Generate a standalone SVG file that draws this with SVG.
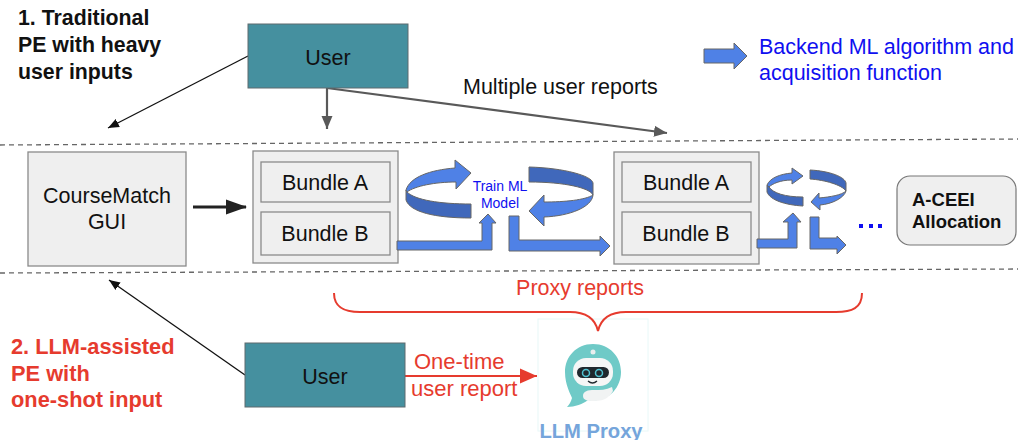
<svg xmlns="http://www.w3.org/2000/svg" width="1018" height="440" viewBox="0 0 1018 440">
<defs>
<marker id="gh" markerWidth="14" markerHeight="12" refX="13" refY="6" orient="auto" markerUnits="userSpaceOnUse"><path d="M0,0.5L13,6L0,11.5z" fill="#595959"/></marker>
<marker id="bh" markerWidth="12" markerHeight="10" refX="11" refY="5" orient="auto" markerUnits="userSpaceOnUse"><path d="M0,0.5L11,5L0,9.5z" fill="#111"/></marker>
<marker id="kh" markerWidth="22" markerHeight="16" refX="20" refY="8" orient="auto" markerUnits="userSpaceOnUse"><path d="M0,0.5L21,8L0,15.5z" fill="#222"/></marker>
<marker id="rh" markerWidth="18" markerHeight="16" refX="17" refY="8" orient="auto" markerUnits="userSpaceOnUse"><path d="M0,0.5L17,8L0,15.5z" fill="#e63b2e"/></marker>
</defs>
<style>
text{font-family:"Liberation Sans",Arial,sans-serif}
.lbl{font-size:21.5px;fill:#111}
.mid{text-anchor:middle}
.head{font-size:21.3px;font-weight:700}
.user{fill:#45909f;stroke:#5f6b6e;stroke-width:1}
.box{fill:#efefef;stroke:#8a8a8a;stroke-width:1.3}
.arr{fill:#4f81e6;stroke:#666;stroke-width:1}
.dark{fill:#4068bb;stroke:#666;stroke-width:1}
.dash{fill:none;stroke:#666;stroke-width:1.3;stroke-dasharray:5 4}
.gl{fill:none;stroke:#595959;stroke-width:2.2}
</style>
<g id="dividers">
<path class="dash" d="M0,145L1018,139"/>
<path class="dash" d="M0,273L1018,269"/>
</g>
<g id="connectors">
<path d="M248,56L108,128" fill="none" stroke="#111" stroke-width="1.3" marker-end="url(#bh)"/>
<path d="M327,88V129" class="gl" marker-end="url(#gh)"/>
<path d="M327,88L667,133" class="gl" marker-end="url(#gh)"/>
<path d="M193,207H246" fill="none" stroke="#222" stroke-width="3" marker-end="url(#kh)"/>
<path d="M245,375L109,280" fill="none" stroke="#111" stroke-width="1.3" marker-end="url(#bh)"/>
<path d="M405,376H537" fill="none" stroke="#e63b2e" stroke-width="2.2" marker-end="url(#rh)"/>
</g>
<g id="title1"><text class="head" fill="#111"><tspan x="18" y="25">1. Traditional</tspan><tspan x="18" y="52">PE with heavy</tspan><tspan x="18" y="79">user inputs</tspan></text></g>
<g id="user1"><rect class="user" x="248" y="24" width="160" height="64"/><text class="lbl mid" x="328" y="65">User</text></g>
<g id="reports-label"><text class="lbl" x="463" y="94">Multiple user reports</text></g>
<g id="legend">
<path class="arr" d="M704,49H734V43L747,56L734,69V63H704z"/>
<text font-size="21.500" fill="#0f0ff0"><tspan x="759" y="54">Backend ML algorithm and</tspan><tspan x="759" y="80">acquisition function</tspan></text>
</g>
<g id="gui"><rect class="box" x="28" y="152" width="158" height="114"/><text class="lbl mid"><tspan x="107" y="203">CourseMatch</tspan><tspan x="107" y="229">GUI</tspan></text></g>
<g id="bundles1">
<rect class="box" x="253" y="151" width="145" height="112"/>
<rect class="box" x="261" y="162" width="129" height="40"/>
<rect class="box" x="261" y="212" width="129" height="43"/>
<text class="lbl mid" x="325" y="190">Bundle A</text>
<text class="lbl mid" x="325" y="241">Bundle B</text>
</g>
<g id="train">
<path class="dark" d="M406,190V200C410,212 435,218 471,218V204C440,204 415,200 407,192z"/>
<path class="arr" d="M406,190C410,177 430,170 455,168V160L471,173L456,189V182C435,182 415,186 407,192z"/>
<path class="dark" d="M529,167C565,168 592,176 593,183V195C590,188 565,182 529,182z"/>
<path class="arr" d="M593,195C592,207 570,216 544,217V226L529,211L544,195V202C565,202 585,200 593,195z"/>
<path class="arr" d="M397,241H482V223H479L488,214L496,223H492V250H397z"/>
<path class="arr" d="M509,216H519V240H600V236L610,246L600,256V251H509z"/>
<text font-size="14" fill="#0f0ff0" class="mid"><tspan x="500" y="191">Train ML</tspan><tspan x="500" y="208">Model</tspan></text>
</g>
<g id="bundles2">
<rect class="box" x="614" y="152" width="145" height="112"/>
<rect class="box" x="622" y="162" width="129" height="40"/>
<rect class="box" x="622" y="212" width="129" height="43"/>
<text class="lbl mid" x="686" y="190">Bundle A</text>
<text class="lbl mid" x="686" y="241">Bundle B</text>
</g>
<g id="loop2">
<path class="dark" d="M767,185V192C770,200 785,205 803,206V197C785,197 773,193 769,187z"/>
<path class="arr" d="M767,185C770,178 780,174 792,173V168L803,176L792,184V180C780,180 772,184 769,187z"/>
<path class="dark" d="M810,170C830,171 845,177 846,183V191C842,185 825,180 810,179z"/>
<path class="arr" d="M846,191C844,198 832,204 820,205V210L811,202L819,193V198C830,197 842,195 846,191z"/>
<path class="arr" d="M757,239H788V222H783L793,213L801,222H797V248H757z"/>
<path class="arr" d="M810,217H819V238H837V236L846,245L837,254V249H810z"/>
</g>
<g id="ellipsis"><path d="M859,224h4v4h-4zM869,224h4v4h-4zM878,224h4v4h-4z" fill="#0f0ff0"/></g>
<g id="allocation"><rect x="897" y="176" width="119" height="69" rx="13" fill="#efefef" stroke="#777" stroke-width="1.2"/><text font-size="18.500" font-weight="700" fill="#111"><tspan x="912" y="206">A-CEEI</tspan><tspan x="912" y="228">Allocation</tspan></text></g>
<g id="proxy-label"><text class="mid" font-size="21.500" fill="#e63b2e" x="580" y="295">Proxy reports</text></g>
<g id="title2"><text font-size="21.800" font-weight="700" fill="#e63b2e"><tspan x="11" y="354">2. LLM-assisted</tspan><tspan x="11" y="381">PE with</tspan><tspan x="11" y="407">one-shot input</tspan></text></g>
<g id="user2"><rect class="user" x="245" y="343" width="160" height="64"/><text class="lbl mid" x="325" y="384">User</text></g>
<g id="one-time"><text font-size="22" fill="#e63b2e"><tspan x="414" y="369">One-time</tspan><tspan x="411" y="396">user report</tspan></text></g>
<g id="proxy">
<rect x="538" y="319" width="110" height="112" fill="none" stroke="#e8f8f8" stroke-width="1"/>
<path d="M593,344C576,344 565,357 565,372C565,385 571,395 572,398C571,402 569,405 567,407C575,407 583,404 588,400C608,403 621,388 621,372C621,357 610,344 593,344z" fill="#6fcac7"/>
<circle cx="593" cy="352" r="2.500" fill="#e9eeee"/>
<rect x="573" y="358" width="40" height="28" rx="13" fill="#f5f6f6"/>
<rect x="577" y="367" width="32" height="11" rx="5.500" fill="#20282e"/>
<circle cx="586" cy="373" r="3.500" fill="none" stroke="#52c3d2" stroke-width="1.500"/>
<circle cx="599" cy="373" r="3.500" fill="none" stroke="#52c3d2" stroke-width="1.500"/>
<path d="M588,381Q592.500,385 597,381" fill="none" stroke="#20282e" stroke-width="1.300"/>
<path d="M583,396C583,391 588,390 594,390C600,390 606,390 612,387L613,391C610,396 606,401 594,401C587,401 583,400 583,396z" fill="#f1f3f3"/>
<text class="mid" font-size="20.200" font-weight="700" fill="#75a5db" x="591" y="438">LLM Proxy</text>
</g>
<g id="brace"><path d="M334,293C334,308 345,312 360,312H570C586,312 595,318 598,331C601,318 610,312 626,312H836C852,312 862,308 862,293" fill="none" stroke="#e63b2e" stroke-width="2"/></g>
</svg>
